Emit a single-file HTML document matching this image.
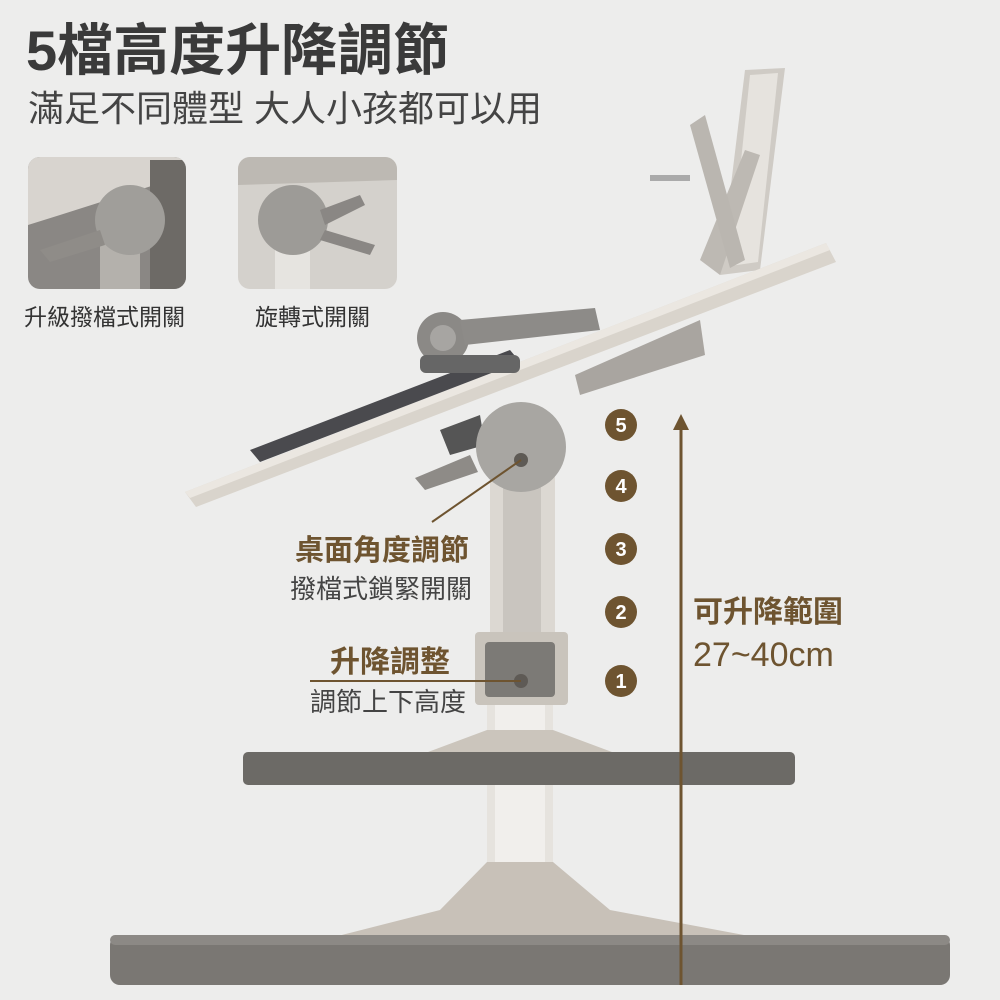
<!DOCTYPE html>
<html><head><meta charset="utf-8"><style>
html,body{margin:0;padding:0;background:#ededec;}
svg{display:block}
text{font-family:"Liberation Sans","Noto Sans CJK TC",sans-serif;}
</style></head><body>
<svg width="1000" height="1000" viewBox="0 0 1000 1000" xmlns="http://www.w3.org/2000/svg">
<rect width="1000" height="1000" fill="#ededec"/>
<text x="26" y="70" font-size="56" font-weight="700" fill="#3a3a3a">5檔高度升降調節</text>
<text x="28" y="121" font-size="36" fill="#444">滿足不同體型 大人小孩都可以用</text>

<defs>
<clipPath id="c1"><rect x="28" y="157" width="158" height="132" rx="12"/></clipPath>
<clipPath id="c2"><rect x="238" y="157" width="159" height="132" rx="12"/></clipPath>
</defs>
<g clip-path="url(#c1)">
<rect x="28" y="157" width="158" height="132" fill="#8a8784"/>
<polygon points="28,157 186,157 186,175 60,215 28,225" fill="#d8d4cf"/>
<rect x="150" y="160" width="40" height="130" fill="#6d6a66"/>
<rect x="100" y="230" width="40" height="60" fill="#b4b1ac"/>
<circle cx="130" cy="220" r="35" fill="#a09e9a"/>
<polygon points="40,250 100,230 105,245 50,262" fill="#8f8c88"/>
</g>
<g clip-path="url(#c2)">
<rect x="238" y="157" width="159" height="132" fill="#d4d1cc"/>
<polygon points="238,157 397,157 397,180 238,185" fill="#bdb9b3"/>
<rect x="275" y="230" width="35" height="60" fill="#e6e4e0"/>
<circle cx="293" cy="220" r="35" fill="#9d9b97"/>
<polygon points="320,210 360,195 365,205 325,225" fill="#8a8784"/>
<polygon points="325,230 375,245 370,255 320,240" fill="#8a8784"/>
</g>
<text x="24" y="325" font-size="23" fill="#333">升級撥檔式開關</text>
<text x="255" y="325" font-size="23" fill="#333">旋轉式開關</text>

<polygon points="745,70 785,68 760,270 720,275" fill="#cfcbc5"/>
<polygon points="750,75 778,73 758,262 730,266" fill="#e6e3de"/>
<polygon points="700,260 745,150 760,155 720,275" fill="#bdb9b3"/>
<polygon points="690,125 705,115 745,260 730,268" fill="#bab6b0"/>
<rect x="650" y="175" width="40" height="6" fill="#aaa"/>

<polygon points="185,492 826,243 836,262 196,507" fill="#d9d4cc"/>
<polygon points="185,492 826,243 830,250 190,498" fill="#ebe7e1"/>
<polygon points="250,450 510,350 520,362 260,462" fill="#4a4a4e"/>
<polygon points="575,375 700,320 705,355 580,395" fill="#a9a5a0"/>
<polygon points="440,430 480,415 485,445 450,455" fill="#555"/>
<circle cx="443" cy="338" r="26" fill="#8b8986"/>
<circle cx="443" cy="338" r="13" fill="#a7a5a2"/>
<polygon points="460,320 595,308 600,330 465,345" fill="#8d8b88"/>
<rect x="420" y="355" width="100" height="18" rx="6" fill="#666"/>

<rect x="490" y="470" width="65" height="180" fill="#dcd8d2"/>
<rect x="503" y="480" width="38" height="160" fill="#c9c5bf"/>
<polygon points="415,478 470,455 478,472 425,490" fill="#8e8b87"/>
<circle cx="521" cy="447" r="45" fill="#a8a6a2"/>
<circle cx="521" cy="460" r="7" fill="#5e5a55"/>
<rect x="487" y="700" width="66" height="165" fill="#e6e3de"/>
<rect x="495" y="700" width="50" height="165" fill="#f1efec"/>
<polygon points="420,755 487,730 553,730 620,755" fill="#cbc5bc"/>
<rect x="243" y="752" width="552" height="33" rx="5" fill="#6c6a66"/>
<rect x="475" y="632" width="93" height="73" rx="4" fill="#c9c4bc"/>
<rect x="485" y="642" width="70" height="55" rx="4" fill="#7c7a76"/>
<circle cx="521" cy="681" r="7" fill="#5e5a55"/>
<polygon points="487,862 553,862 610,910 760,938 330,938 440,910" fill="#c8c1b8"/>
<rect x="110" y="935" width="840" height="50" rx="10" fill="#7a7773"/>
<rect x="110" y="935" width="840" height="10" rx="5" fill="#8c8985"/>

<line x1="432" y1="522" x2="521" y2="460" stroke="#6e5430" stroke-width="2"/>
<text x="295" y="560" font-size="29" font-weight="700" fill="#6e5430">桌面角度調節</text>
<text x="290" y="598" font-size="26" fill="#444">撥檔式鎖緊開關</text>
<text x="330" y="672" font-size="30" font-weight="700" fill="#6e5430">升降調整</text>
<line x1="310" y1="681" x2="521" y2="681" stroke="#6e5430" stroke-width="2"/>
<text x="310" y="711" font-size="26" fill="#444">調節上下高度</text>

<g font-size="20" font-weight="700" fill="#fff" text-anchor="middle">
<circle cx="621" cy="425" r="16" fill="#6e5430"/><text x="621" y="432">5</text>
<circle cx="621" cy="486" r="16" fill="#6e5430"/><text x="621" y="493">4</text>
<circle cx="621" cy="549" r="16" fill="#6e5430"/><text x="621" y="556">3</text>
<circle cx="621" cy="612" r="16" fill="#6e5430"/><text x="621" y="619">2</text>
<circle cx="621" cy="681" r="16" fill="#6e5430"/><text x="621" y="688">1</text>
</g>
<line x1="681" y1="985" x2="681" y2="425" stroke="#6e5430" stroke-width="3"/>
<polygon points="681,414 673,430 689,430" fill="#6e5430"/>
<text x="693" y="622" font-size="30" font-weight="700" fill="#6e5430">可升降範圍</text>
<text x="693" y="666" font-size="34" fill="#6e5430">27~40cm</text>
</svg>
</body></html>
